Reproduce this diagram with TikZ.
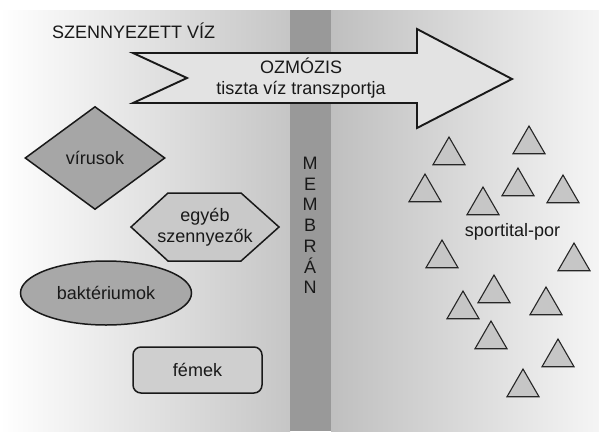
\documentclass[tikz,border=0pt]{standalone}
\usepackage{fontspec}
\setmainfont{Liberation Sans}
\usetikzlibrary{shapes.geometric}

\begin{document}
\begin{tikzpicture}[x=1pt,y=-1pt,
  every node/.style={font=\fontsize{18}{21}\selectfont, text=black!90},
  dirt/.style={draw=black!90, line width=1.5pt},
  grain/.style={regular polygon, regular polygon sides=3, minimum size=37pt,
    inner sep=0pt, draw=black!85, line width=1.1pt, fill=gray!45}]
  \useasboundingbox (0,0) rectangle (599,431);

  % Draw the two sides and the membrane
  \shade[left color=white, right color=gray!45] (0,10) rectangle (290,431);
  \shade[left color=gray!50, right color=gray!8] (331,10) rectangle (599,431);
  \fill[gray!80] (290,10) rectangle (331,431);

  \node[anchor=base west, inner sep=0pt] (dirty) at (52,38.5) {SZENNYEZETT VÍZ};

  % Osmosis arrow
  \draw[line width=1.9pt, draw=black!90, fill=gray!22]
    (133,53) -- (417,53) -- (417,29) -- (512,79) -- (417,128)
    -- (417,103) -- (133,103) -- (187,78) -- cycle;
  \node[align=center, inner sep=0pt] (ozmozis) at (301,78)
    {OZMÓZIS\\tiszta víz transzportja};

  % Contaminants
  \node[dirt, diamond, fill=gray!70, minimum width=140pt, minimum height=103pt,
    inner sep=0pt] (virus) at (95,158) {vírusok};
  \draw[dirt, fill=gray!42] (131,227) -- (168,193) -- (241,193) -- (279,227)
    -- (241,261) -- (168,261) -- cycle;
  \node[align=center, inner sep=0pt] (other) at (205,227) {egyéb\\szennyezők};
  \node[dirt, ellipse, fill=gray!68, minimum width=171pt, minimum height=64pt,
    inner sep=0pt] (bact) at (106,293) {baktériumok};
  \node[dirt, rectangle, rounded corners=8pt, fill=gray!38, minimum width=129pt,
    minimum height=46pt] (metal) at (197.5,370) {fémek};

  % Membrane letters
  \foreach \ch [count=\i] in {M,E,M,B,R,Á,N}
    \node[inner sep=0pt, text height=13pt, text depth=0pt] (mem\i)
      at (310,142.3+20.7*\i) {\ch};

  % Sports drink powder grains
  \foreach \gx/\gy [count=\i] in {449/155.5, 529/144.5, 425/192.5, 483/205.5,
      518/186.5, 563/193.5, 442/258.5, 574/261.5, 494/293.5, 463/309.5,
      546/305.5, 491/339.5, 558/357.5, 523/387.5}
    \node[grain] (g\i) at (\gx,\gy) {};

  \node[inner sep=0pt] (powder) at (512.5,232) {sportital-por};
\end{tikzpicture}
\end{document}
